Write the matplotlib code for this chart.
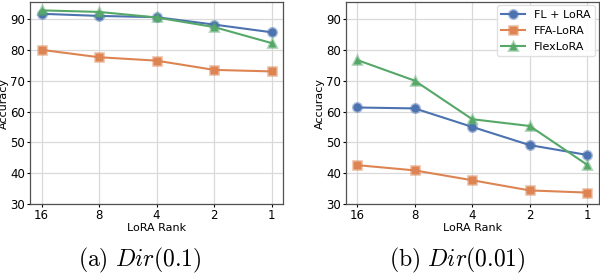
import matplotlib
matplotlib.use("Agg")
import matplotlib.pyplot as plt
from matplotlib.colors import to_rgba

ranks = ["16", "8", "4", "2", "1"]
series_names = ["FL + LoRA", "FFA-LoRA", "FlexLoRA"]

acc_a_fl = [91.7, 91.0, 90.6, 88.2, 85.7]
acc_a_ffa = [80.0, 77.6, 76.5, 73.5, 73.0]
acc_a_flex = [92.8, 92.3, 90.5, 87.4, 82.2]

acc_b_fl = [61.3, 61.0, 55.0, 49.1, 45.9]
acc_b_ffa = [42.6, 40.9, 37.7, 34.4, 33.7]
acc_b_flex = [76.7, 70.0, 57.5, 55.3, 42.7]

captions = [r"$\mathrm{(a)}\ Dir(0.1)$", r"$\mathrm{(b)}\ Dir(0.01)$"]

colors = ["#4C72B0", "#DD8452", "#55A868"]
markers = ["o", "s", "^"]

plt.rcParams["mathtext.fontset"] = "cm"
plt.rcParams["font.family"] = "DejaVu Sans"

fig = plt.figure(figsize=(6.0, 2.74), dpi=100)
ax1 = fig.add_axes([0.05, 0.2555, 0.4217, 0.737])
ax2 = fig.add_axes([0.5762, 0.2555, 0.4217, 0.737])

data = [(acc_a_fl, acc_a_ffa, acc_a_flex), (acc_b_fl, acc_b_ffa, acc_b_flex)]
x = list(range(len(ranks)))
cap_x = [140 / 600, 457 / 600]

for ax, series, cap, cx in zip([ax1, ax2], data, captions, cap_x):
    for vals, name, c, m in zip(series, series_names, colors, markers):
        ax.plot(x, vals, color=c, marker=m, markersize=6, lw=1.5,
                markerfacecolor=c, markeredgecolor=to_rgba(c, 0.45),
                markeredgewidth=2.0, label=name)
    ax.set_xticks(x)
    ax.set_xticklabels(ranks)
    ax.set_xlim(-0.2, 4.2)
    ax.set_ylim(30, 95.5)
    ax.set_yticks([30, 40, 50, 60, 70, 80, 90])
    ax.grid(True, color="#d9d9d9", lw=0.9)
    ax.set_axisbelow(True)
    ax.tick_params(labelsize=8.5, length=2.5, width=0.8, pad=1)
    ax.set_xlabel("LoRA Rank", fontsize=8, labelpad=1)
    ax.set_ylabel("Accuracy", fontsize=8, labelpad=1)
    for s in ax.spines.values():
        s.set_color("#505050")
        s.set_linewidth(0.9)
    fig.text(cx, 14 / 274, cap, ha="center", va="center", fontsize=17)

ax2.legend(loc="upper right", fontsize=8, frameon=True, framealpha=0.9,
           edgecolor="#dddddd", handlelength=2.2, borderaxespad=0.3,
           labelspacing=0.55)

fig.savefig("out.png", dpi=100)
